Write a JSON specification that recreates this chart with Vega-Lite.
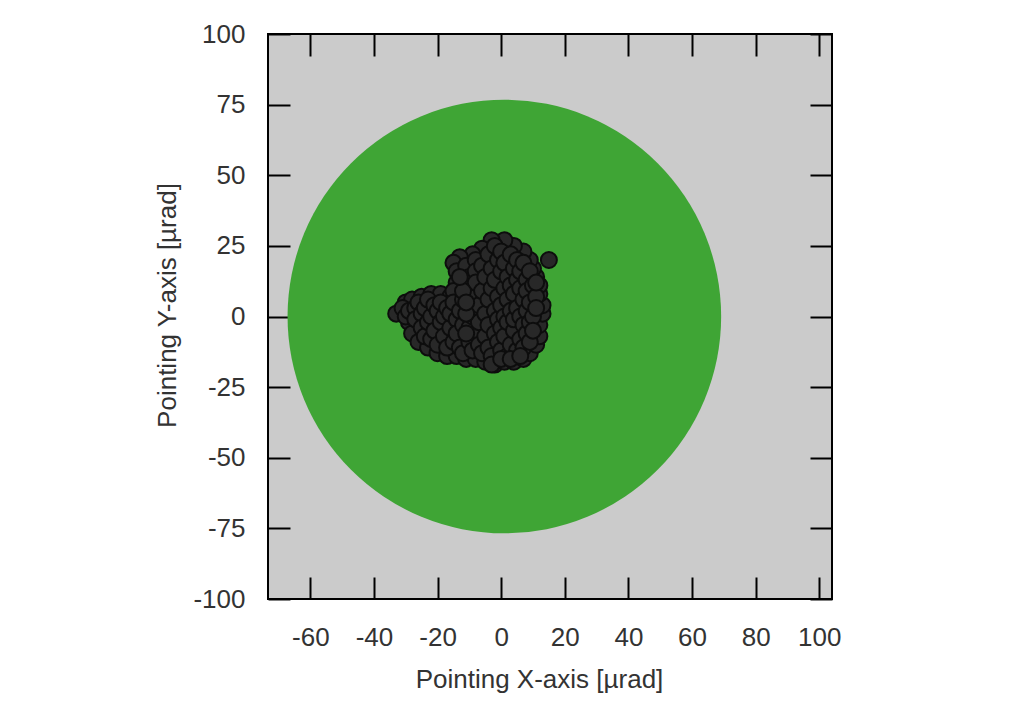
{
  "$schema": "https://vega.github.io/schema/vega-lite/v6.json",
  "width": 564,
  "height": 565,
  "autosize": {"type": "none"},
  "padding": {"left": 268, "top": 34, "right": 192, "bottom": 105},
  "background": "white",
  "config": {
    "view": {"stroke": "black", "strokeWidth": 2, "fill": "#cbcbcb"},
    "font": "Liberation Sans",
    "axis": {
      "domain": false,
      "grid": false,
      "tickSize": -22,
      "tickWidth": 2,
      "tickColor": "black",
      "labelFont": "Liberation Sans",
      "labelFontSize": 26,
      "labelColor": "#333333",
      "titleFont": "Liberation Sans",
      "titleFontSize": 26,
      "titleFontWeight": "normal",
      "titleColor": "#333333",
      "zindex": 1
    }
  },
  "datasets": {
    "circle": [{"x": 1, "y": 0}],
    "pts": [
      {"x": -33, "y": 1}, {"x": -30, "y": 5}, {"x": -28, "y": 6}, {"x": -25, "y": 7}, {"x": -22, "y": 8}, {"x": -19, "y": 8}, {"x": -16, "y": 7},
      {"x": -29, "y": -2}, {"x": -28, "y": -6}, {"x": -26, "y": -9}, {"x": -23, "y": -11}, {"x": -20, "y": -13}, {"x": -17, "y": -14}, {"x": -14, "y": -14},
      {"x": -11, "y": -15}, {"x": -8, "y": -15}, {"x": -5, "y": -16}, {"x": -2, "y": -17}, {"x": 1, "y": -16}, {"x": 4, "y": -16}, {"x": 7, "y": -15},
      {"x": 9, "y": -13}, {"x": 11, "y": -10}, {"x": 12, "y": -7}, {"x": 12, "y": -3}, {"x": 13, "y": 1}, {"x": 13, "y": 4}, {"x": 12, "y": 8},
      {"x": 12, "y": 11}, {"x": 11, "y": 14}, {"x": 10, "y": 17}, {"x": 9, "y": 20}, {"x": 7, "y": 23}, {"x": 4, "y": 25}, {"x": 1, "y": 27},
      {"x": -3, "y": 27}, {"x": -6, "y": 24}, {"x": -9, "y": 22}, {"x": -13, "y": 21}, {"x": -15, "y": 19}, {"x": -14, "y": 16}, {"x": -14, "y": 12},
      {"x": -15, "y": 9}, {"x": 15, "y": 20},
      {"x": -31, "y": 3}, {"x": -30, "y": 0}, {"x": -29, "y": 2}, {"x": -27, "y": 3}, {"x": -27, "y": -1}, {"x": -26, "y": 5}, {"x": -25, "y": 1},
      {"x": -25, "y": -4}, {"x": -24, "y": -7}, {"x": -24, "y": 3}, {"x": -23, "y": 6}, {"x": -23, "y": -2}, {"x": -22, "y": 0}, {"x": -22, "y": -8},
      {"x": -21, "y": 4}, {"x": -21, "y": -5}, {"x": -20, "y": 2}, {"x": -20, "y": -10}, {"x": -19, "y": -2}, {"x": -19, "y": 5}, {"x": -18, "y": -7},
      {"x": -18, "y": 0}, {"x": -17, "y": 3}, {"x": -17, "y": -11}, {"x": -16, "y": -4}, {"x": -16, "y": 1}, {"x": -15, "y": -9}, {"x": -15, "y": 5},
      {"x": -14, "y": -1}, {"x": -14, "y": -6}, {"x": -13, "y": 2}, {"x": -13, "y": -11}, {"x": -12, "y": -3}, {"x": -12, "y": 6}, {"x": -12, "y": -13},
      {"x": -11, "y": 18}, {"x": -10, "y": 14}, {"x": -10, "y": 10}, {"x": -10, "y": 3}, {"x": -10, "y": -4}, {"x": -10, "y": -9}, {"x": -9, "y": 7},
      {"x": -9, "y": 0}, {"x": -9, "y": -12}, {"x": -8, "y": 20}, {"x": -8, "y": 16}, {"x": -8, "y": 12}, {"x": -8, "y": -6}, {"x": -7, "y": 4},
      {"x": -7, "y": -2}, {"x": -7, "y": -10}, {"x": -6, "y": 9}, {"x": -6, "y": 18}, {"x": -6, "y": -13}, {"x": -5, "y": 14}, {"x": -5, "y": 1},
      {"x": -5, "y": -7}, {"x": -4, "y": 22}, {"x": -4, "y": 6}, {"x": -4, "y": -3}, {"x": -4, "y": -11}, {"x": -3, "y": 10}, {"x": -3, "y": 17},
      {"x": -3, "y": -14}, {"x": -2, "y": 2}, {"x": -2, "y": -6}, {"x": -2, "y": 25}, {"x": -2, "y": 13}, {"x": -1, "y": 20}, {"x": -1, "y": -1},
      {"x": -1, "y": -9}, {"x": -1, "y": 7}, {"x": 0, "y": 16}, {"x": 0, "y": 4}, {"x": 0, "y": -4}, {"x": 0, "y": -12}, {"x": 0, "y": 23},
      {"x": 1, "y": 10}, {"x": 1, "y": 0}, {"x": 1, "y": -7}, {"x": 1, "y": 19}, {"x": 2, "y": 14}, {"x": 2, "y": -2}, {"x": 2, "y": 6},
      {"x": 2, "y": -14}, {"x": 3, "y": 22}, {"x": 3, "y": 2}, {"x": 3, "y": -10}, {"x": 3, "y": 11}, {"x": 4, "y": 17}, {"x": 4, "y": -5},
      {"x": 4, "y": 8}, {"x": 4, "y": -1}, {"x": 5, "y": 13}, {"x": 5, "y": 20}, {"x": 5, "y": 3}, {"x": 5, "y": -12}, {"x": 6, "y": -8},
      {"x": 6, "y": 0}, {"x": 6, "y": 10}, {"x": 6, "y": 16}, {"x": 7, "y": 6}, {"x": 7, "y": -3}, {"x": 7, "y": 19}, {"x": 7, "y": -11},
      {"x": 8, "y": 13}, {"x": 8, "y": 2}, {"x": 8, "y": -6}, {"x": 8, "y": 9}, {"x": 9, "y": 16}, {"x": 9, "y": -2}, {"x": 9, "y": 5},
      {"x": 9, "y": -9}, {"x": 10, "y": 11}, {"x": 10, "y": 0}, {"x": 10, "y": -5}, {"x": 11, "y": 7}, {"x": 11, "y": 3}, {"x": 11, "y": 12},
      {"x": -11, "y": -6}, {"x": -11, "y": 1}, {"x": -12, "y": 9}, {"x": -13, "y": 14}, {"x": -11, "y": 5}, {"x": -3, "y": -17}, {"x": 0, "y": -15},
      {"x": 3, "y": -15}, {"x": 6, "y": -14}
    ]
  },
  "layer": [
    {
      "data": {"name": "circle"},
      "mark": {"type": "point", "shape": "circle", "filled": true, "size": 188000, "color": "#3fa535", "opacity": 1, "strokeWidth": 0, "clip": true},
      "encoding": {
        "x": {"field": "x", "type": "quantitative", "scale": {"domain": [-73.3, 104], "nice": false, "zero": false},
          "axis": {"orient": "top", "labels": false, "title": null, "values": [-60, -40, -20, 0, 20, 40, 60, 80, 100]}},
        "y": {"field": "y", "type": "quantitative", "scale": {"domain": [-100, 100], "nice": false, "zero": false},
          "axis": {"orient": "right", "labels": false, "title": null, "values": [-100, -75, -50, -25, 0, 25, 50, 75, 100]}}
      }
    },
    {
      "data": {"name": "pts"},
      "mark": {"type": "point", "shape": "circle", "filled": true, "size": 256, "fill": "#282828", "stroke": "#0d0d0d", "strokeWidth": 2, "opacity": 1},
      "encoding": {
        "x": {"field": "x", "type": "quantitative", "scale": {"domain": [-73.3, 104], "nice": false, "zero": false},
          "axis": {"orient": "bottom", "title": "Pointing X-axis [µrad]", "values": [-60, -40, -20, 0, 20, 40, 60, 80, 100],
            "labelExpr": "'' + datum.value", "labelPadding": 47, "titleX": 271, "titlePadding": 16}},
        "y": {"field": "y", "type": "quantitative", "scale": {"domain": [-100, 100], "nice": false, "zero": false},
          "axis": {"orient": "left", "title": "Pointing Y-axis [µrad]", "values": [-100, -75, -50, -25, 0, 25, 50, 75, 100],
            "labelExpr": "'' + datum.value", "labelPadding": 45, "titleY": 271, "titlePadding": 12}}
      }
    }
  ],
  "resolve": {"axis": {"x": "independent", "y": "independent"}}
}
